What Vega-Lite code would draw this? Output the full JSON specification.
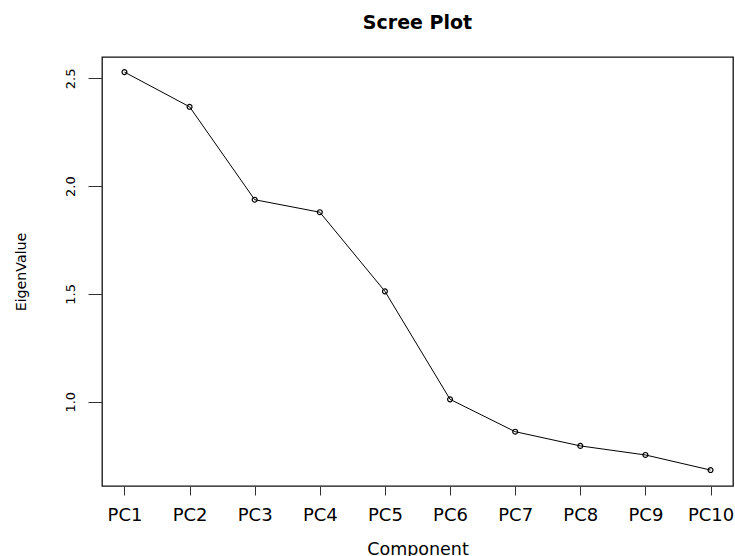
{
  "$schema": "https://vega.github.io/schema/vega-lite/v6.json",
  "width": 631,
  "height": 429,
  "autosize": {"type": "none"},
  "padding": {"left": 102, "top": 57, "right": 2, "bottom": 70},
  "background": "white",
  "title": {"text": "Scree Plot", "font": "DejaVu Sans", "fontSize": 19, "fontWeight": "bold", "color": "black", "anchor": "middle", "baseline": "alphabetic", "offset": 9},
  "data": {"values": [
    {"component": "PC1", "eigenvalue": 2.529},
    {"component": "PC2", "eigenvalue": 2.368},
    {"component": "PC3", "eigenvalue": 1.937},
    {"component": "PC4", "eigenvalue": 1.879},
    {"component": "PC5", "eigenvalue": 1.512},
    {"component": "PC6", "eigenvalue": 1.011},
    {"component": "PC7", "eigenvalue": 0.861},
    {"component": "PC8", "eigenvalue": 0.795},
    {"component": "PC9", "eigenvalue": 0.753},
    {"component": "PC10", "eigenvalue": 0.683}
  ]},
  "encoding": {
    "x": {"field": "component", "type": "ordinal", "sort": null,
      "scale": {"type": "point", "padding": 0.345},
      "axis": {"title": "Component", "titleFontSize": 17.5, "titleFontWeight": "normal", "titleColor": "black", "titleBaseline": "top", "titleAlign": "center", "titleY": 54.5, "titleX": 315.5, "labelFontSize": 18, "labelColor": "black", "labelAngle": 0, "labelBaseline": "top", "labelAlign": "center", "labelPadding": 11, "tickSize": 9, "tickColor": "#333", "tickWidth": 1, "domain": false, "grid": false, "labelFlush": false}},
    "y": {"field": "eigenvalue", "type": "quantitative",
      "scale": {"domain": [0.609, 2.599], "nice": false, "zero": false},
      "axis": {"title": "EigenValue", "titleFontSize": 14.2, "titleFontWeight": "normal", "titleColor": "black", "titleAngle": 270, "titleX": -81, "titleY": 214.5, "titleAlign": "center", "titleBaseline": "middle", "values": [1.0, 1.5, 2.0, 2.5], "format": ".1f", "labelAngle": 270, "labelAlign": "center", "labelBaseline": "alphabetic", "labelPadding": 14, "labelFontSize": 13, "labelColor": "black", "tickSize": 14, "tickColor": "#333", "tickWidth": 1, "domain": false, "grid": false}}
  },
  "layer": [
    {"mark": {"type": "line", "color": "black", "strokeWidth": 1}},
    {"mark": {"type": "point", "shape": "circle", "filled": false, "color": "black", "size": 24, "strokeWidth": 1.2, "opacity": 1}}
  ],
  "config": {
    "font": "DejaVu Sans",
    "view": {"stroke": "#111", "strokeWidth": 1.3}
  }
}
